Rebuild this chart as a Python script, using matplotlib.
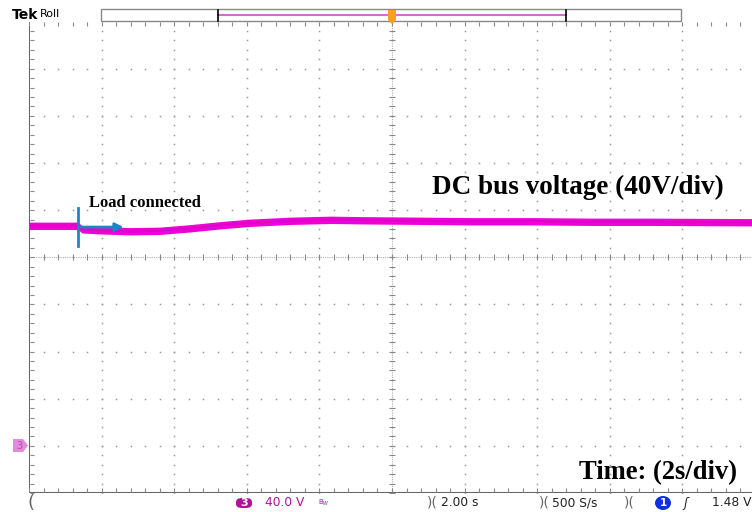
import numpy as np
import matplotlib
matplotlib.use('Agg')
import matplotlib.pyplot as plt
from matplotlib.patches import Rectangle, FancyBboxPatch, Polygon, Ellipse

t_div = [0.0, 0.29, 0.674, 0.73, 0.978, 1.39, 1.80, 2.22, 2.63, 3.04, 3.61, 4.16,
         4.60, 5.40, 6.09, 6.93, 7.75, 8.57, 9.96, 10.1]
v_div = [0.667, 0.667, 0.667, 0.593, 0.572, 0.551, 0.561, 0.614, 0.678, 0.731, 0.773,
         0.794, 0.784, 0.773, 0.763, 0.763, 0.752, 0.752, 0.742, 0.742]
band = 0.078

load_x = 0.68
load_y = 0.64

W, H = 752, 512
fig = plt.figure(figsize=(W/100, H/100), dpi=100)
fig.patch.set_facecolor('white')

x0, x1 = 29, 755
y0, y1 = 21.5, 493
ax = fig.add_axes([x0/W, 1-y1/H, (x1-x0)/W, (y1-y0)/H])
ax.set_xlim(0, 10)
ax.set_ylim(-5, 5)
ax.set_axis_off()

dot = '#9a9a9a'
# dotted graticule
fine_x = np.arange(0, 10.01, 0.2)
fine_y = np.arange(-5, 5.01, 0.2)
for gy in range(-4, 5):
    if gy == 0:
        continue
    ax.plot(fine_x, np.full_like(fine_x, gy), ls='none', marker='s', ms=1.1, color=dot, mec='none')
for gx in range(1, 10):
    if gx == 5:
        continue
    ax.plot(np.full_like(fine_y, gx), fine_y, ls='none', marker='s', ms=1.1, color=dot, mec='none')

# centre cross with ticks
ax.plot([0, 10], [0, 0], color='#b0b0b0', lw=0.8, ls=(0, (1, 1)))
ax.plot([5, 5], [-5, 5], color='#b0b0b0', lw=0.8, ls=(0, (1, 1)))
ax.plot(fine_x, np.zeros_like(fine_x), ls='none', marker='|', ms=4, mew=0.8, color='#888888')
ax.plot(np.full_like(fine_y, 5), fine_y, ls='none', marker='_', ms=4, mew=0.8, color='#888888')

# border with inward ticks
ax.plot([0, 0], [-5, 5], color='#555555', lw=1.3)
ax.plot([0, 10], [5, 5], color='#333333', lw=1.3)
ax.plot([0, 10], [-5, -5], color='#666666', lw=2.2)
ax.plot(np.full_like(fine_y, 0.035), fine_y, ls='none', marker='_', ms=2.5, mew=0.8, color='#888888')
ax.plot(fine_x, np.full_like(fine_x, 4.955), ls='none', marker='|', ms=2.5, mew=0.8, color='#888888')
ax.plot(fine_x, np.full_like(fine_x, -4.94), ls='none', marker='|', ms=2.5, mew=0.8, color='#888888')

# trace
tv = np.array(v_div)
ax.fill_between(t_div, tv-band, tv+band, color='#f000d8', lw=0, zorder=5)
ax.plot(t_div, tv, color='#e000c8', lw=1.5, zorder=6)

# load marker
ax.plot([load_x, load_x], [load_y-0.4, load_y+0.4], color='#1a86c8', lw=2, zorder=7)
ax.annotate('', xy=(load_x+0.66, load_y), xytext=(load_x, load_y),
            arrowprops=dict(arrowstyle='-|>', color='#1a86c8', lw=2, mutation_scale=12), zorder=7)
ax.text(load_x+0.14, 0.98, 'Load connected', family='Liberation Serif', fontweight='bold',
        fontsize=12, va='bottom', ha='left', zorder=8)

ax.text(5.55, 1.48, 'DC bus voltage (40V/div)', family='Liberation Serif', fontweight='bold',
        fontsize=19.5, va='center', ha='left')
ax.text(7.57, -4.57, 'Time: (2s/div)', family='Liberation Serif', fontweight='bold',
        fontsize=19.2, va='center', ha='left')

# header
def fx(px):
    return px/W
def fy(py):
    return 1-py/H

fig.text(fx(12), fy(15), 'Tek', fontsize=10, fontweight='bold', family='DejaVu Sans',
         va='center', ha='left')
fig.text(fx(40), fy(14), 'Roll', fontsize=8, family='DejaVu Sans', va='center', ha='left')
fig.add_artist(Rectangle((fx(101), fy(21)), fx(681)-fx(101), fy(9)-fy(21), transform=fig.transFigure,
                         fc='white', ec='#888888', lw=1))
fig.add_artist(plt.Line2D([fx(218), fx(566)], [fy(15), fy(15)], transform=fig.transFigure,
                          color='#d070c8', lw=1.5))
for px in (218, 566):
    fig.add_artist(plt.Line2D([fx(px), fx(px)], [fy(10), fy(21)], transform=fig.transFigure,
                              color='black', lw=1.2))
fig.add_artist(Polygon([[fx(388), fy(10)], [fx(396), fy(10)], [fx(396), fy(20)], [fx(392), fy(24)],
                        [fx(388), fy(20)]], closed=True, transform=fig.transFigure, fc='#f5a020',
                       ec='none', zorder=10))

# channel 3 ground marker
fig.add_artist(Polygon([[fx(13), fy(439)], [fx(23), fy(439)], [fx(28), fy(445.5)], [fx(23), fy(452)],
                        [fx(13), fy(452)]], closed=True, transform=fig.transFigure, fc='#e48ad8', ec='none'))
fig.text(fx(19), fy(446), '3', fontsize=7, color='#b050a8', ha='center', va='center')

# status bar
sb = 503
fig.text(fx(27), fy(sb), '(', fontsize=13, color='#666666', ha='left', va='center')
fig.add_artist(FancyBboxPatch((fx(236), fy(508)), fx(16), fy(498)-fy(508),
                              boxstyle='round,pad=0,rounding_size=0.008', transform=fig.transFigure,
                              fc='#b0109a', ec='none'))
fig.text(fx(244), fy(sb), '3', fontsize=8, color='white', fontweight='bold', ha='center', va='center')
fig.text(fx(265), fy(sb), '40.0 V', fontsize=8.8, color='#b0109a', ha='left', va='center')
fig.text(fx(318), fy(sb), 'B$_W$', fontsize=5, color='#b0109a', ha='left', va='center')
fig.text(fx(427), fy(sb), ')(', fontsize=10, color='#666666', ha='left', va='center')
fig.text(fx(441), fy(sb), '2.00 s', fontsize=8.8, color='#222222', ha='left', va='center')
fig.text(fx(539), fy(sb), ')(', fontsize=10, color='#666666', ha='left', va='center')
fig.text(fx(552), fy(sb), '500 S/s', fontsize=8.8, color='#222222', ha='left', va='center')
fig.text(fx(624), fy(sb), ')(', fontsize=10, color='#666666', ha='left', va='center')
fig.add_artist(Ellipse((fx(663), fy(sb)), fx(16), fy(496)-fy(510), transform=fig.transFigure,
                       fc='#1030e0', ec='none'))
fig.text(fx(663), fy(sb), '1', fontsize=7.5, color='white', fontweight='bold', ha='center', va='center')
fig.text(fx(683), fy(sb), 'ʃ', fontsize=9, color='#222222', ha='left', va='center', fontstyle='italic')
fig.text(fx(712), fy(sb), '1.48 V', fontsize=8.8, color='#222222', ha='left', va='center')

fig.savefig('out.png', dpi=100)
